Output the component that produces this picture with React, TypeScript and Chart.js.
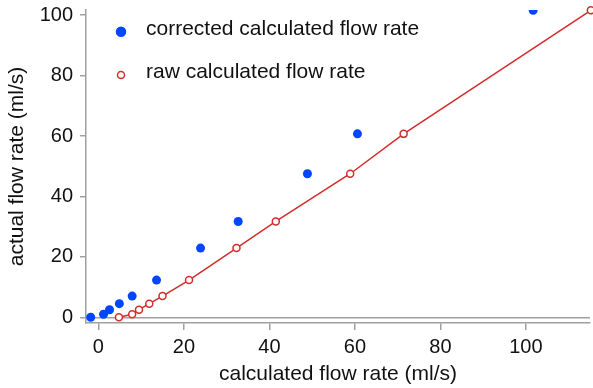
import React, { useEffect, useRef } from 'react';
import { Chart, registerables } from 'chart.js';

Chart.register(...registerables);

// actual flow rate (ml/s), shared by both series
const actualFlow = [0, 1.0, 2.5, 4.5, 7.0, 12.3, 22.9, 31.7, 47.5, 60.7, 101.6];
// corrected calculated flow rate (ml/s)
const correctedCalc = [-1.8, 1.2, 2.6, 4.9, 7.9, 13.6, 23.9, 32.7, 48.9, 60.6, 101.7];
// raw calculated flow rate (ml/s)
const rawCalc = [4.8, 7.9, 9.5, 11.9, 15.0, 21.2, 32.3, 41.5, 58.9, 71.4, 115.2];

const xTicks = [0, 20, 40, 60, 80, 100];
const yTicks = [0, 20, 40, 60, 80, 100];
const seriesLabels = ['corrected calculated flow rate', 'raw calculated flow rate'];
const xTitle = 'calculated flow rate (ml/s)';
const yTitle = 'actual flow rate (ml/s)';

const FONT = '"Liberation Sans", Arial, Helvetica, sans-serif';
const BLUE = '#0045ff';
const RED = '#d42b2b';
const AXIS = '#a0a0a0';
const TEXT = '#111111';

const legendPlugin = {
  id: 'insideLegend',
  afterDraw(chart: any) {
    const ctx = chart.ctx as CanvasRenderingContext2D;
    const { left, top } = chart.chartArea;
    chart.data.datasets.forEach((ds: any, i: number) => {
      const cx = left + 35;
      const cy = top + 21.7 + i * 43.3;
      ctx.save();
      ctx.beginPath();
      ctx.arc(cx, cy, ds.pointRadius, 0, Math.PI * 2);
      ctx.fillStyle = ds.pointBackgroundColor;
      ctx.fill();
      ctx.lineWidth = ds.pointBorderWidth;
      ctx.strokeStyle = ds.pointBorderColor;
      ctx.stroke();
      ctx.fillStyle = TEXT;
      ctx.font = `21px ${FONT}`;
      ctx.textBaseline = 'middle';
      ctx.textAlign = 'left';
      ctx.fillText(ds.label, left + 60, cy - 2.3);
      ctx.restore();
    });
  },
};

export default function App() {
  const ref = useRef<HTMLCanvasElement | null>(null);

  useEffect(() => {
    if (!ref.current) return;
    const chart = new Chart(ref.current, {
      type: 'scatter',
      data: {
        datasets: [
          {
            label: seriesLabels[0],
            data: correctedCalc.map((x, i) => ({ x, y: actualFlow[i] })),
            showLine: false,
            pointRadius: 4.5,
            pointBackgroundColor: BLUE,
            pointBorderColor: BLUE,
            pointBorderWidth: 0,
            pointHoverRadius: 4.5,
          },
          {
            label: seriesLabels[1],
            data: rawCalc.map((x, i) => ({ x, y: actualFlow[i] })),
            showLine: true,
            borderColor: RED,
            borderWidth: 1.5,
            pointRadius: 3.5,
            pointBackgroundColor: '#ffffff',
            pointBorderColor: RED,
            pointBorderWidth: 1.5,
            pointHoverRadius: 3.5,
            clip: false,
          } as any,
        ],
      },
      options: {
        animation: false,
        responsive: false,
        events: [],
        layout: { padding: { top: 10, right: 3, left: 0, bottom: 0 }, autoPadding: false },
        plugins: { legend: { display: false }, tooltip: { enabled: false } },
        scales: {
          x: {
            type: 'linear',
            min: -2.9,
            max: 115,
            afterBuildTicks: (axis: any) => {
              axis.ticks = xTicks.map((v) => ({ value: v }));
            },
            afterFit: (scale: any) => {
              scale.height = 65;
              scale.paddingLeft = 0;
              scale.paddingRight = 0;
            },
            grid: {
              drawOnChartArea: false,
              drawTicks: true,
              tickLength: 7,
              color: AXIS,
              tickColor: AXIS,
              lineWidth: 1.5,
            },
            border: { display: true, color: AXIS, width: 1.5 },
            ticks: {
              color: TEXT,
              font: { family: FONT, size: 20 },
              padding: 5,
              maxRotation: 0,
            },
            title: {
              display: true,
              text: xTitle,
              color: TEXT,
              font: { family: FONT, size: 21 },
              padding: { top: 0, bottom: 1 },
            },
          },
          y: {
            type: 'linear',
            min: -1.9,
            max: 101.7,
            afterBuildTicks: (axis: any) => {
              axis.ticks = yTicks.map((v) => ({ value: v }));
            },
            afterFit: (scale: any) => {
              scale.width = 86;
              scale.paddingTop = 0;
              scale.paddingBottom = 0;
            },
            grid: {
              drawTicks: true,
              tickLength: 6,
              color: (c: any) => (c.tick && c.tick.value === 0 ? AXIS : 'rgba(0,0,0,0)'),
              tickColor: AXIS,
              lineWidth: 1.5,
            },
            border: { display: true, color: AXIS, width: 1.5 },
            ticks: {
              color: TEXT,
              font: { family: FONT, size: 20 },
              padding: 7,
            },
            title: {
              display: true,
              text: yTitle,
              color: TEXT,
              font: { family: FONT, size: 21 },
              padding: { top: 5, bottom: 0 },
            },
          },
        },
      },
      plugins: [legendPlugin],
    });
    return () => chart.destroy();
  }, []);

  return (
    <div style={{ position: 'absolute', left: 0, top: 0, width: 593, height: 388, background: '#fff' }}>
      <canvas ref={ref} width={593} height={388} style={{ display: 'block', width: 593, height: 388 }} />
    </div>
  );
}
